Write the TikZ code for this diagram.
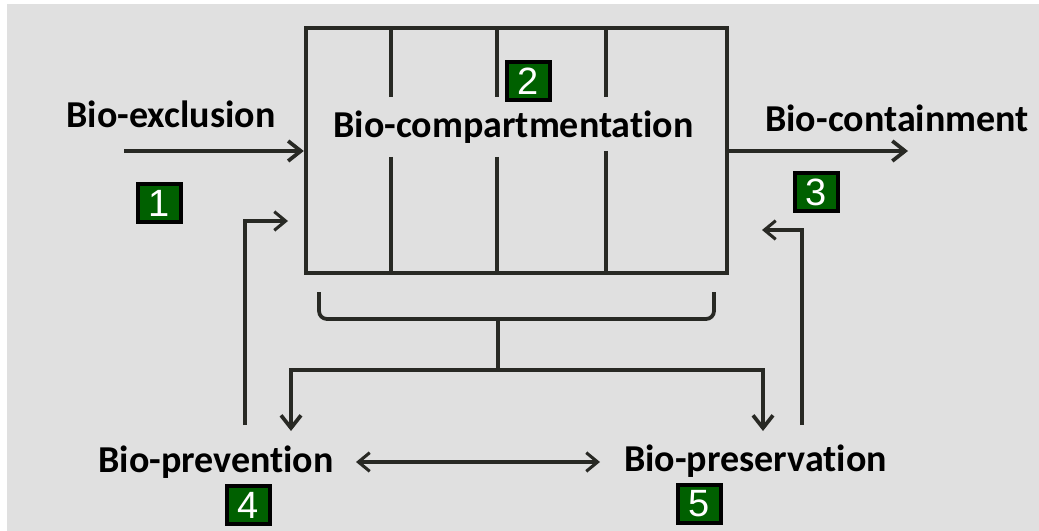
\documentclass[tikz,border=0pt]{standalone}
\usepackage{fontspec}
\setmainfont{Carlito}[Ligatures={NoCommon}]
\newfontfamily\digitfont{Liberation Sans}
\usetikzlibrary{arrows.meta}
\definecolor{bggray}{RGB}{224,224,224}
\definecolor{ink}{RGB}{40,41,36}
\definecolor{badgegreen}{RGB}{0,96,0}
\begin{document}
\begin{tikzpicture}[x=0.75pt,y=-0.75pt,
  label/.style={font=\fontsize{28.5}{30}\selectfont\bfseries, text=black, inner sep=0pt, anchor=base},
  badge/.style={draw=black, line width=3pt, fill=badgegreen, text=white,
    font=\digitfont\fontsize{28.5}{30}\selectfont, minimum width=32.25pt, minimum height=28.5pt, inner sep=0pt},
  thick line/.style={draw=ink, line width=3.3pt},
  thin line/.style={draw=ink, line width=2.3pt},
  tip/.style={-{Straight Barb[length=9.5pt,width=15pt,line width=2.8pt]}},
  smalltip/.style={-{Straight Barb[length=8.5pt,width=14pt,line width=2.3pt]}}]
  % page and grey backdrop
  \useasboundingbox (0,0) rectangle (1039,531);
  \fill[white] (0,0) rectangle (1039,531);
  \fill[bggray] (7,4) rectangle (1039,531);

  % compartment box
  \node[thick line, minimum width=315.75pt, minimum height=183.75pt, inner sep=0pt] (comp) at (516.5,150.5) {};
  \draw[thick line] (391,28) -- (391,97) (391,157) -- (391,273);
  \draw[thick line] (497,28) -- (497,97) (497,157) -- (497,273);
  \draw[thick line] (606,28) -- (606,97) (606,151) -- (606,273);
  \node[label] (compt) at (513.5,138) {Bio-compartmentation};
  \node[badge] (b2) at (528.5,81) {2};

  % exclusion and containment
  \node[label] (excl) at (171,128) {Bio-exclusion};
  \node[badge] (b1) at (159.5,203.5) {1};
  \coordinate (exs) at (124,151);
  \draw[thick line, tip] (exs) -- (exs -| comp.west);

  \node[label] (cont) at (897,132) {Bio-containment};
  \node[badge] (b3) at (816.5,192) {3};
  \coordinate (cte) at (908,151);
  \draw[thick line, tip] (cte -| comp.east) -- (cte);

  % prevention and preservation
  \node[label] (prev) at (216,472) {Bio-prevention};
  \node[badge] (b4) at (248.5,505) {4};
  \node[label] (pres) at (755.5,471) {Bio-preservation};
  \node[badge] (b5) at (699.5,504) {5};

  % feedback to the box
  \coordinate (fbl) at (245,425);
  \coordinate (fble) at (288,221);
  \draw[thin line, smalltip] (fbl) |- (fble);
  \coordinate (fbr) at (802,425);
  \coordinate (fbre) at (762,230);
  \draw[thin line, smalltip] (fbr) |- (fbre);

  % bracket under the compartments
  \coordinate (brl) at (319,292);
  \coordinate (brr) at (714,292);
  \coordinate (brm) at (498,319);
  \coordinate (split) at (498,370);
  \draw[thin line, line width=2.8pt, rounded corners=6pt] (brl) -- (319,319) -- (714,319) -- (brr);
  \draw[thick line] (brm) -- (split);
  \coordinate (dl) at (291,431);
  \coordinate (dr) at (763,431);
  \draw[thin line, line width=2.8pt, tip] (split) -| (dl);
  \draw[thin line, line width=2.8pt, tip] (split) -| (dr);

  % exchange between prevention and preservation
  \coordinate (xl) at (356,462);
  \coordinate (xr) at (600,462);
  \draw[thin line, {Straight Barb[length=8.5pt,width=14pt,line width=2.3pt]}-{Straight Barb[length=8.5pt,width=14pt,line width=2.3pt]}] (xl) -- (xr);
\end{tikzpicture}
\end{document}
